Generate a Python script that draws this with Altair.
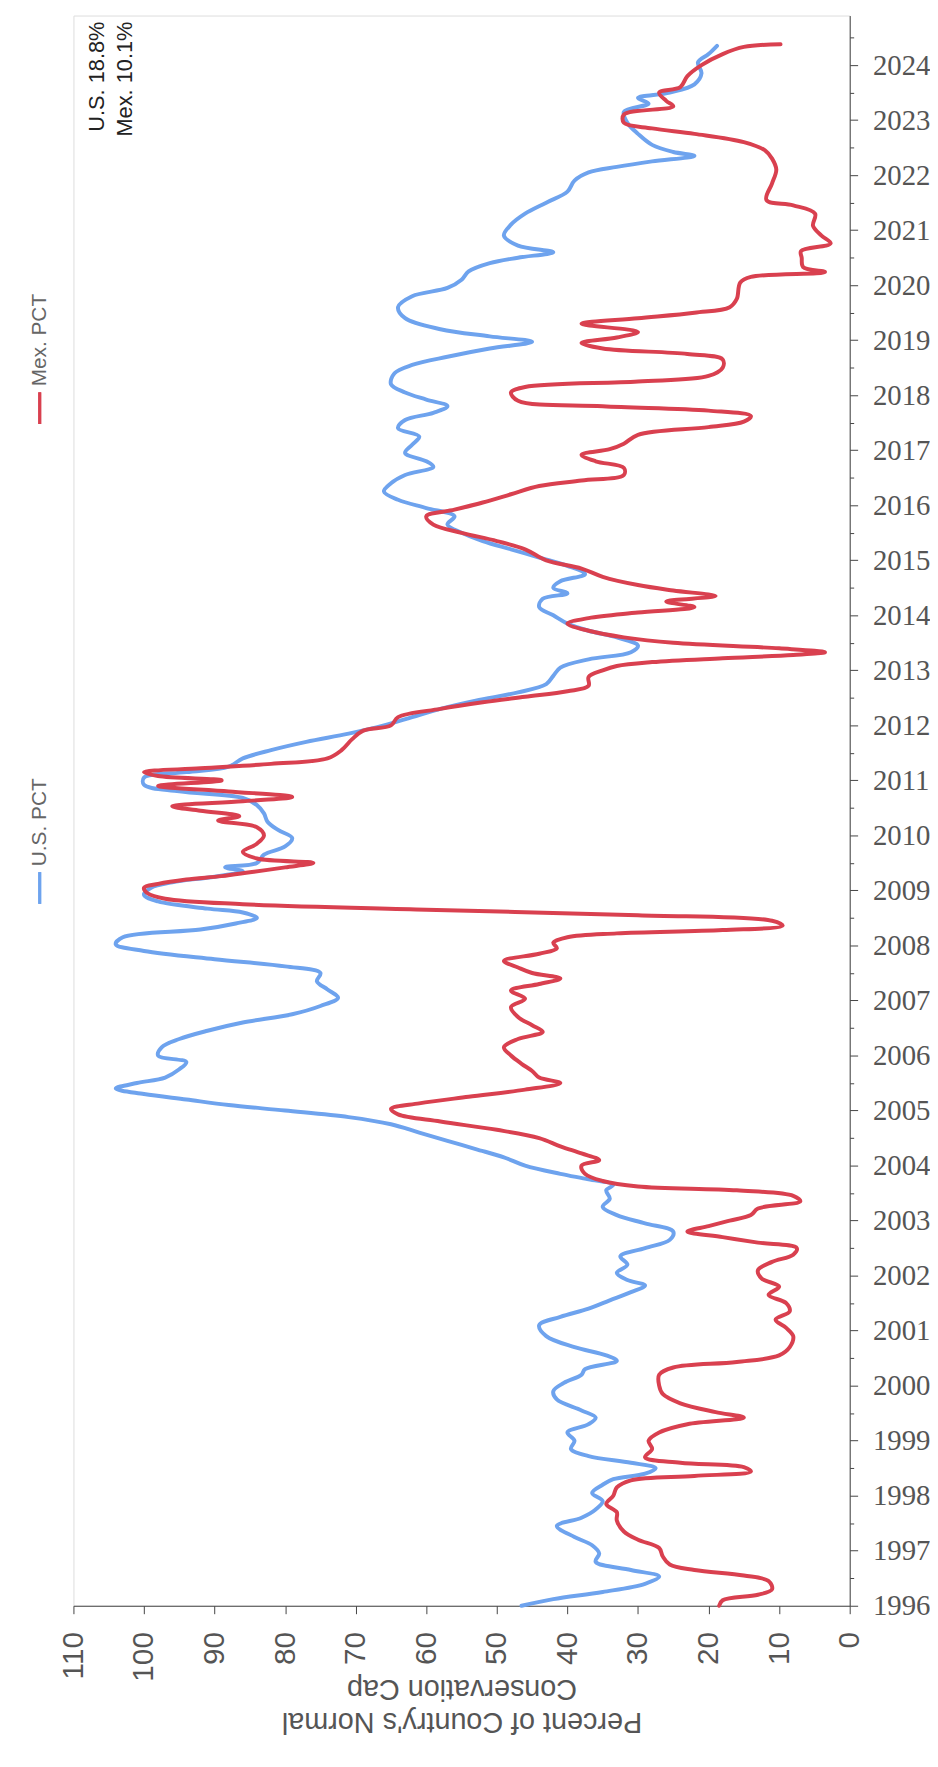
import altair as alt
import pandas as pd

# ---- data ----
us_year = [1996.00, 1996.12, 1996.25, 1996.4, 1996.53, 1996.65, 1996.8, 1996.95, 1997.1, 1997.25,
           1997.45, 1997.6, 1997.75, 1997.9, 1998.05, 1998.2, 1998.3, 1998.4, 1998.5, 1998.6,
           1998.72, 1998.85, 1999.0, 1999.15, 1999.3, 1999.42, 1999.55, 1999.75, 1999.9, 2000.05,
           2000.2, 2000.3, 2000.45, 2000.55, 2000.7, 2000.9, 2001.1, 2001.25, 2001.4, 2001.55,
           2001.7, 2001.82, 2001.92, 2002.05, 2002.2, 2002.35, 2002.5, 2002.65, 2002.8, 2002.95,
           2003.1, 2003.25, 2003.4, 2003.55, 2003.65, 2003.75, 2003.85, 2004.0, 2004.15, 2004.3,
           2004.45, 2004.6, 2004.75, 2004.88, 2005.0, 2005.1, 2005.2, 2005.3, 2005.4, 2005.5,
           2005.6, 2005.75, 2005.88, 2006.0, 2006.15, 2006.3, 2006.45, 2006.6, 2006.75, 2006.9,
           2007.05, 2007.2, 2007.35, 2007.5, 2007.62, 2007.75, 2007.9, 2008.02, 2008.15, 2008.29,
           2008.4, 2008.5, 2008.6, 2008.67, 2008.8, 2008.92, 2009.05, 2009.15, 2009.25, 2009.35,
           2009.42, 2009.5, 2009.65, 2009.8, 2009.95, 2010.1, 2010.25, 2010.4, 2010.55, 2010.68,
           2010.8, 2010.92, 2011.05, 2011.15, 2011.25, 2011.4, 2011.55, 2011.7, 2011.85, 2012.0,
           2012.15, 2012.3, 2012.45, 2012.6, 2012.75, 2012.9, 2013.05, 2013.2, 2013.33, 2013.45,
           2013.6, 2013.72, 2013.85, 2014.0, 2014.15, 2014.3, 2014.4, 2014.5, 2014.62, 2014.75,
           2014.9, 2015.05, 2015.2, 2015.35, 2015.5, 2015.65, 2015.8, 2015.95, 2016.1, 2016.25,
           2016.4, 2016.55, 2016.7, 2016.8, 2016.95, 2017.1, 2017.25, 2017.4, 2017.55, 2017.68,
           2017.8, 2017.92, 2018.05, 2018.2, 2018.4, 2018.55, 2018.7, 2018.85, 2018.97, 2019.07,
           2019.2, 2019.4, 2019.6, 2019.8, 2019.95, 2020.1, 2020.25, 2020.4, 2020.5, 2020.6,
           2020.72, 2020.9, 2021.1, 2021.3, 2021.5, 2021.7, 2021.9, 2022.05, 2022.15, 2022.25,
           2022.35, 2022.42, 2022.55, 2022.75, 2022.95, 2023.15, 2023.3, 2023.4, 2023.5, 2023.65,
           2023.85, 2024.05, 2024.2, 2024.35]
us_pct = [46.5, 42, 35, 29, 27, 31, 36, 35.5, 36.5, 39,
          41.5, 38, 36, 35, 36.5, 35, 33.5, 29, 27.5, 31,
          37, 39.5, 39, 40, 37, 36, 38, 41.5, 42, 40.5,
          38, 37.5, 33, 34.5, 39, 43, 44, 41, 37, 34,
          31, 29, 31.5, 33, 31.5, 32.5, 29, 25.5, 25, 29,
          33, 35, 34, 34.5, 33.5, 37, 41, 46, 49, 53,
          57, 61, 65, 71, 80, 88, 94, 100, 104, 101,
          97, 95, 94, 98, 97.5, 95, 91, 86, 79, 75,
          72.5, 74, 75.5, 75, 80, 90, 100, 104, 103, 92,
          87, 84, 86, 91, 98, 100, 99, 96, 90, 86,
          88.5, 84, 83, 80, 79, 81, 82.5, 83, 84, 86,
          95, 100, 100, 94, 88, 86, 82, 77, 71, 66,
          62, 58, 53, 47, 43, 42, 41, 37, 31, 30,
          33, 37, 40, 42, 44, 43.5, 40, 42, 41, 37.5,
          40, 44, 48, 52, 55, 57, 56, 60, 64, 66,
          65, 63, 59, 60, 63, 62, 61, 64, 63, 59,
          57, 60, 63, 65, 64.5, 62, 57, 51, 45, 51,
          58, 63, 64, 62, 57, 55, 54, 51, 47, 42,
          47, 49, 48, 46, 43, 40, 39, 37, 33, 28,
          22, 25, 28, 30, 31.5, 32, 28.5, 30, 25.5, 22,
          21, 21.5, 20, 18.8]

mx_year = [1996.0, 1996.1, 1996.2, 1996.3, 1996.45, 1996.55, 1996.65, 1996.75, 1996.9, 1997.05,
           1997.2, 1997.35, 1997.55, 1997.7, 1997.85, 1998.0, 1998.15, 1998.28, 1998.36, 1998.44,
           1998.52, 1998.6, 1998.7, 1998.85, 1999.0, 1999.15, 1999.3, 1999.42, 1999.52, 1999.68,
           1999.85, 2000.0, 2000.2, 2000.33, 2000.43, 2000.55, 2000.7, 2000.9, 2001.05, 2001.2,
           2001.35, 2001.5, 2001.65, 2001.8, 2001.95, 2002.1, 2002.25, 2002.38, 2002.5, 2002.6,
           2002.7, 2002.8, 2002.9, 2003.0, 2003.1, 2003.22, 2003.35, 2003.45, 2003.55, 2003.62,
           2003.72, 2003.85, 2004.0, 2004.1, 2004.22, 2004.35, 2004.5, 2004.65, 2004.8, 2004.93,
           2005.03, 2005.13, 2005.25, 2005.38, 2005.5, 2005.6, 2005.72, 2005.85, 2006.0, 2006.15,
           2006.3, 2006.43, 2006.55, 2006.7, 2006.88, 2007.03, 2007.18, 2007.3, 2007.4, 2007.5,
           2007.6, 2007.72, 2007.85, 2007.95, 2008.05, 2008.15, 2008.22, 2008.28, 2008.36, 2008.45,
           2008.55, 2008.65, 2008.75, 2008.85, 2008.95, 2009.05, 2009.12, 2009.2, 2009.26, 2009.33,
           2009.42, 2009.5, 2009.58, 2009.7, 2009.85, 2010.0, 2010.15, 2010.27, 2010.35, 2010.45,
           2010.53, 2010.62, 2010.7, 2010.8, 2010.9, 2011.0, 2011.08, 2011.15, 2011.22, 2011.3,
           2011.4, 2011.55, 2011.75, 2011.9, 2012.0, 2012.15, 2012.3, 2012.42, 2012.52, 2012.62,
           2012.72, 2012.88, 2013.0, 2013.08, 2013.15, 2013.22, 2013.28, 2013.33, 2013.4, 2013.5,
           2013.6, 2013.72, 2013.85, 2013.95, 2014.05, 2014.15, 2014.25, 2014.35, 2014.45, 2014.55,
           2014.7, 2014.85, 2015.0, 2015.2, 2015.35, 2015.5, 2015.65, 2015.8, 2015.92, 2016.05,
           2016.2, 2016.35, 2016.45, 2016.55, 2016.68, 2016.8, 2016.92, 2017.02, 2017.12, 2017.28,
           2017.42, 2017.52, 2017.62, 2017.72, 2017.8, 2017.9, 2018.05, 2018.15, 2018.25, 2018.35,
           2018.5, 2018.65, 2018.75, 2018.85, 2018.95, 2019.05, 2019.15, 2019.3, 2019.4, 2019.5,
           2019.6, 2019.75, 2020.05, 2020.15, 2020.24, 2020.33, 2020.5, 2020.62, 2020.76, 2020.9,
           2021.08, 2021.3, 2021.45, 2021.55, 2021.85, 2022.1, 2022.3, 2022.45, 2022.6, 2022.75,
           2022.85, 2022.95, 2023.1, 2023.25, 2023.35, 2023.5, 2023.6, 2023.8, 2024.0, 2024.2,
           2024.33, 2024.38]
mx_pct = [18.5, 18, 13, 11, 11.5, 15, 22, 25.5, 26.5, 27,
          30, 32, 33, 33, 34.5, 33.5, 33, 31, 22, 14,
          15, 24, 29, 28, 28.5, 27, 23, 15, 19, 24,
          26.5, 27, 27, 25, 16, 10, 8.5, 8, 9, 10.5,
          8.5, 9, 11.5, 10, 12.5, 13, 11, 8, 7.5, 13,
          18, 23, 20, 17, 14, 13, 7, 8, 16, 30,
          35, 37.5, 38, 35.5, 38, 41, 44, 50, 58, 64,
          65, 61, 54, 46, 41, 44, 45, 46.5, 48, 49,
          47, 43.5, 45, 47, 48, 46, 48, 44, 41, 45,
          47, 49, 44, 41.5, 42, 40, 33, 18, 9.5, 11,
          30, 60, 86, 97, 99.5, 100, 98, 94, 89, 85,
          80, 76, 84, 86, 84, 83, 84, 89.5, 86.5, 92,
          96, 86, 79, 88, 98, 89, 98, 100, 92, 82,
          74, 72, 70.5, 69, 65, 64, 58, 52, 46, 40,
          37, 37, 35, 33, 28, 18, 8, 3.5, 10, 25,
          32, 37, 40, 37, 30, 22, 26, 19, 25, 30,
          35, 38, 43, 46, 50, 55, 59, 60, 56, 52,
          48, 44, 38, 32, 32, 36, 38, 34, 32, 30,
          20, 15, 14, 20, 35, 47, 48, 46, 30, 20,
          18, 18, 23, 35, 38, 33, 30, 38, 30, 22,
          17, 16, 15.5, 14, 3.5, 6.6, 6.8, 6.9, 2.7, 4,
          5.2, 4.9, 8, 11.8, 11, 10.4, 11, 12, 15, 22,
          28, 32, 32, 25, 26, 27, 24, 23, 21, 18,
          15, 9.8]

series_names = ["U.S. PCT", "Mex. PCT"]
series_colors = ["#6ea3ee", "#d9404f"]
pct_ticks = [0, 10, 20, 30, 40, 50, 60, 70, 80, 90, 100, 110]
year_ticks = [y / 2 for y in range(1996 * 2, 2024 * 2 + 2)]
annotation = ["U.S.  18.8%", "Mex.  10.1%"]
axis_title = ["Percent of Country's Normal", "Conservation Cap"]

us_df = pd.DataFrame({"year": us_year, "pct": us_pct, "series": series_names[0]})
mx_df = pd.DataFrame({"year": mx_year, "pct": mx_pct, "series": series_names[1]})

W, H = 783, 1604
FONT = "Liberation Sans"

x_enc = alt.X(
    "pct:Q",
    scale=alt.Scale(domain=[0, 110], reverse=True, nice=False, zero=False),
    axis=alt.Axis(
        values=pct_ticks, orient="bottom", grid=False, title=axis_title,
        labelAngle=270, labelAlign="right", labelBaseline="middle",
        labelFontSize=30, labelFont=FONT, labelColor="#555", labelPadding=18,
        tickSize=8, tickColor="#444", domainColor="#444",
        titleAngle=180, titleFontSize=29, titleFont=FONT, titleFontWeight="normal",
        titleColor="#555", titleX=W / 2, titleY=117, titleAlign="center",
        titleBaseline="middle", titleLineHeight=34, labelFlush=False, labelOverlap=False,
    ),
)
y_enc = alt.Y(
    "year:Q",
    scale=alt.Scale(domain=[1996, 2024.9], nice=False, zero=False),
    axis=alt.Axis(
        values=year_ticks, orient="right", grid=False, title=None,
        labelExpr="datum.value % 1 == 0 ? format(datum.value, 'd') : ''",
        labelFontSize=29, labelFont="Liberation Sans Narrow", labelColor="#555",
        labelPadding=15, labelAlign="left", labelBaseline="middle",
        tickSize=alt.condition("datum.value % 1 == 0", alt.value(8), alt.value(4)),
        tickColor="#444", domainColor="#444", labelFlush=False, labelOverlap=False,
    ),
)

def series_layer(df, color):
    return alt.Chart(df).mark_line(
        strokeWidth=4, color=color, strokeJoin="round", strokeCap="round",
        interpolate="catmull-rom",
    ).encode(x=x_enc, y=y_enc, order="year:Q")

blue = series_layer(us_df, series_colors[0])
red = series_layer(mx_df, series_colors[1])

# legend (sits to the left of the plot, rotated)
leg_df = pd.DataFrame({"label": series_names})
leg_us_line = alt.Chart(leg_df).mark_rule(color=series_colors[0], strokeWidth=3).encode(
    x=alt.value(-34), y=alt.value(896), y2=alt.value(864))
leg_us_text = alt.Chart(pd.DataFrame({"label": [series_names[0]]})).mark_text(
    angle=270, align="left", baseline="middle", fontSize=21, font=FONT, color="#666"
).encode(text="label:N", x=alt.value(-34), y=alt.value(858))
leg_mx_line = alt.Chart(leg_df).mark_rule(color=series_colors[1], strokeWidth=3).encode(
    x=alt.value(-34), y=alt.value(412), y2=alt.value(380))
leg_mx_text = alt.Chart(pd.DataFrame({"label": [series_names[1]]})).mark_text(
    angle=270, align="left", baseline="middle", fontSize=21, font=FONT, color="#666"
).encode(text="label:N", x=alt.value(-34), y=alt.value(374))

ann1 = alt.Chart(pd.DataFrame({"t": [annotation[0]]})).mark_text(
    angle=270, align="right", baseline="middle", fontSize=22, font=FONT, color="#222"
).encode(text="t:N", x=alt.value(24), y=alt.value(6))
ann2 = alt.Chart(pd.DataFrame({"t": [annotation[1]]})).mark_text(
    angle=270, align="right", baseline="middle", fontSize=22, font=FONT, color="#222"
).encode(text="t:N", x=alt.value(52), y=alt.value(6))

chart = alt.layer(
    blue, red, leg_us_line, leg_us_text, leg_mx_line, leg_mx_text, ann1, ann2
).properties(
    width=W, height=H,
    autosize=alt.AutoSizeParams(type="none"),
    padding={"left": 66, "top": 0, "right": 81, "bottom": 155},
).configure_view(stroke="#444", strokeWidth=1).configure(background="white")

chart.save("out.html", embed_options={"renderer": "svg", "actions": False})
